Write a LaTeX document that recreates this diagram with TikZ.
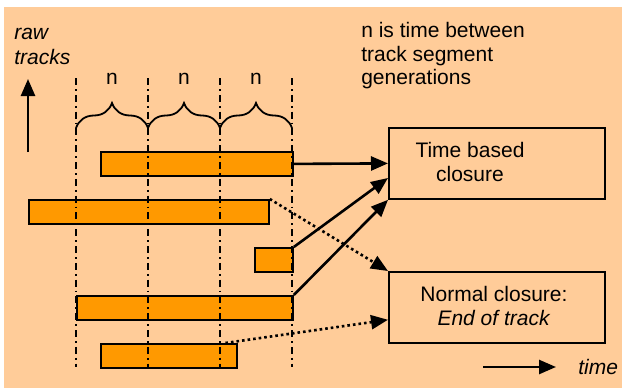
\documentclass[tikz,border=0pt]{standalone}
\usepackage{fontspec}
\setmainfont{Liberation Sans}
\usetikzlibrary{arrows.meta,calc,decorations.pathreplacing}
\definecolor{peach}{RGB}{255,204,153}
\definecolor{trackorange}{RGB}{255,153,0}

\begin{document}
\begin{tikzpicture}[x=1pt,y=-1pt,>={Triangle[length=17pt,width=14pt]},line width=2.6pt,
	font=\fontsize{21}{23.5}\selectfont,
	track/.style={draw,fill=trackorange,line width=1.8pt,minimum height=24pt,inner sep=0pt,anchor=north west},
	closure/.style={draw,line width=1.8pt,minimum width=216pt,minimum height=71pt,inner sep=0pt,anchor=north west},
	generation/.style={line width=1.8pt,dash pattern=on 7pt off 4pt on 1.8pt off 4pt},
	spacing/.style={decorate,decoration={brace,amplitude=25pt},line width=1.8pt},
	dots/.style={dash pattern=on 2.6pt off 3pt}]
	\useasboundingbox (0,0) rectangle (622,388);
	\fill[peach] (4,7) rectangle (622,388);

	% tracks
	\node [track, minimum width=192pt]	(b1)	at (100,151)	{};
	\node [track, minimum width=240pt]	(b2)	at (28,199)		{};
	\node [track, minimum width=38pt]	(b3)	at (254,247)	{};
	\node [track, minimum width=216pt]	(b4)	at (76,295)		{};
	\node [track, minimum width=136pt]	(b5)	at (100,343)	{};

	% generation times
	\foreach \x in {76,148,220,292}
		\draw [generation] (\x,78) -- (\x,367);
	\foreach \a/\b in {76/148,148/220,220/292}
		\draw [spacing] (\a,128) -- (\b,128);
	\foreach \x [count=\i] in {112,184,256}
		\node (gap\i) at (\x,79) {n};

	% closures
	\node [closure]	(tbc)	at (388,127)	{};
	\node [closure]	(ncl)	at (388,271)	{};
	\node [align=center]	(tbclabel)	at (470,162)	{Time based\\closure};
	\node [align=center]	(ncllabel)	at (494,306)	{Normal closure:\\\textit{End of track}};

	\node [anchor=north west, align=left, inner sep=0pt]	(note)	at (360,21)	{n is time between\\track segment\\generations};
	\node [anchor=north west, align=left, inner sep=0pt, font=\fontsize{21}{24.5}\selectfont\itshape]	(rawtracks)	at (13,27)	{raw\\tracks};

	% axes
	\coordinate (up0) at (28,152);
	\coordinate (up1) at (28,79);
	\draw [->] (up0) -- (up1);
	\coordinate (t0) at (483,367);
	\coordinate (t1) at (556,367);
	\draw [->] (t0) -- (t1);
	\node [anchor=west, inner sep=0pt, font=\fontsize{21}{23.5}\selectfont\itshape]	(timelabel)	at (577,367)	{time};

	\coordinate (tbcin) at ($(tbc.north west)!0.7!(tbc.south west)$);
	\coordinate (nclin) at ($(ncl.north west)!0.67!(ncl.south west)$);
	\coordinate (b5top) at ($(b5.north west)!0.91!(b5.north east)$);

	\path [->]
		(b1.east)		edge				(tbc.west)
		(b3.north east)	edge				(tbcin)
		(b4.north east)	edge				(tbc.south west)
		(b2.north east)	edge	[dots]		(ncl.north west)
		(b5top)			edge	[dots]		(nclin)
	;
\end{tikzpicture}
\end{document}
